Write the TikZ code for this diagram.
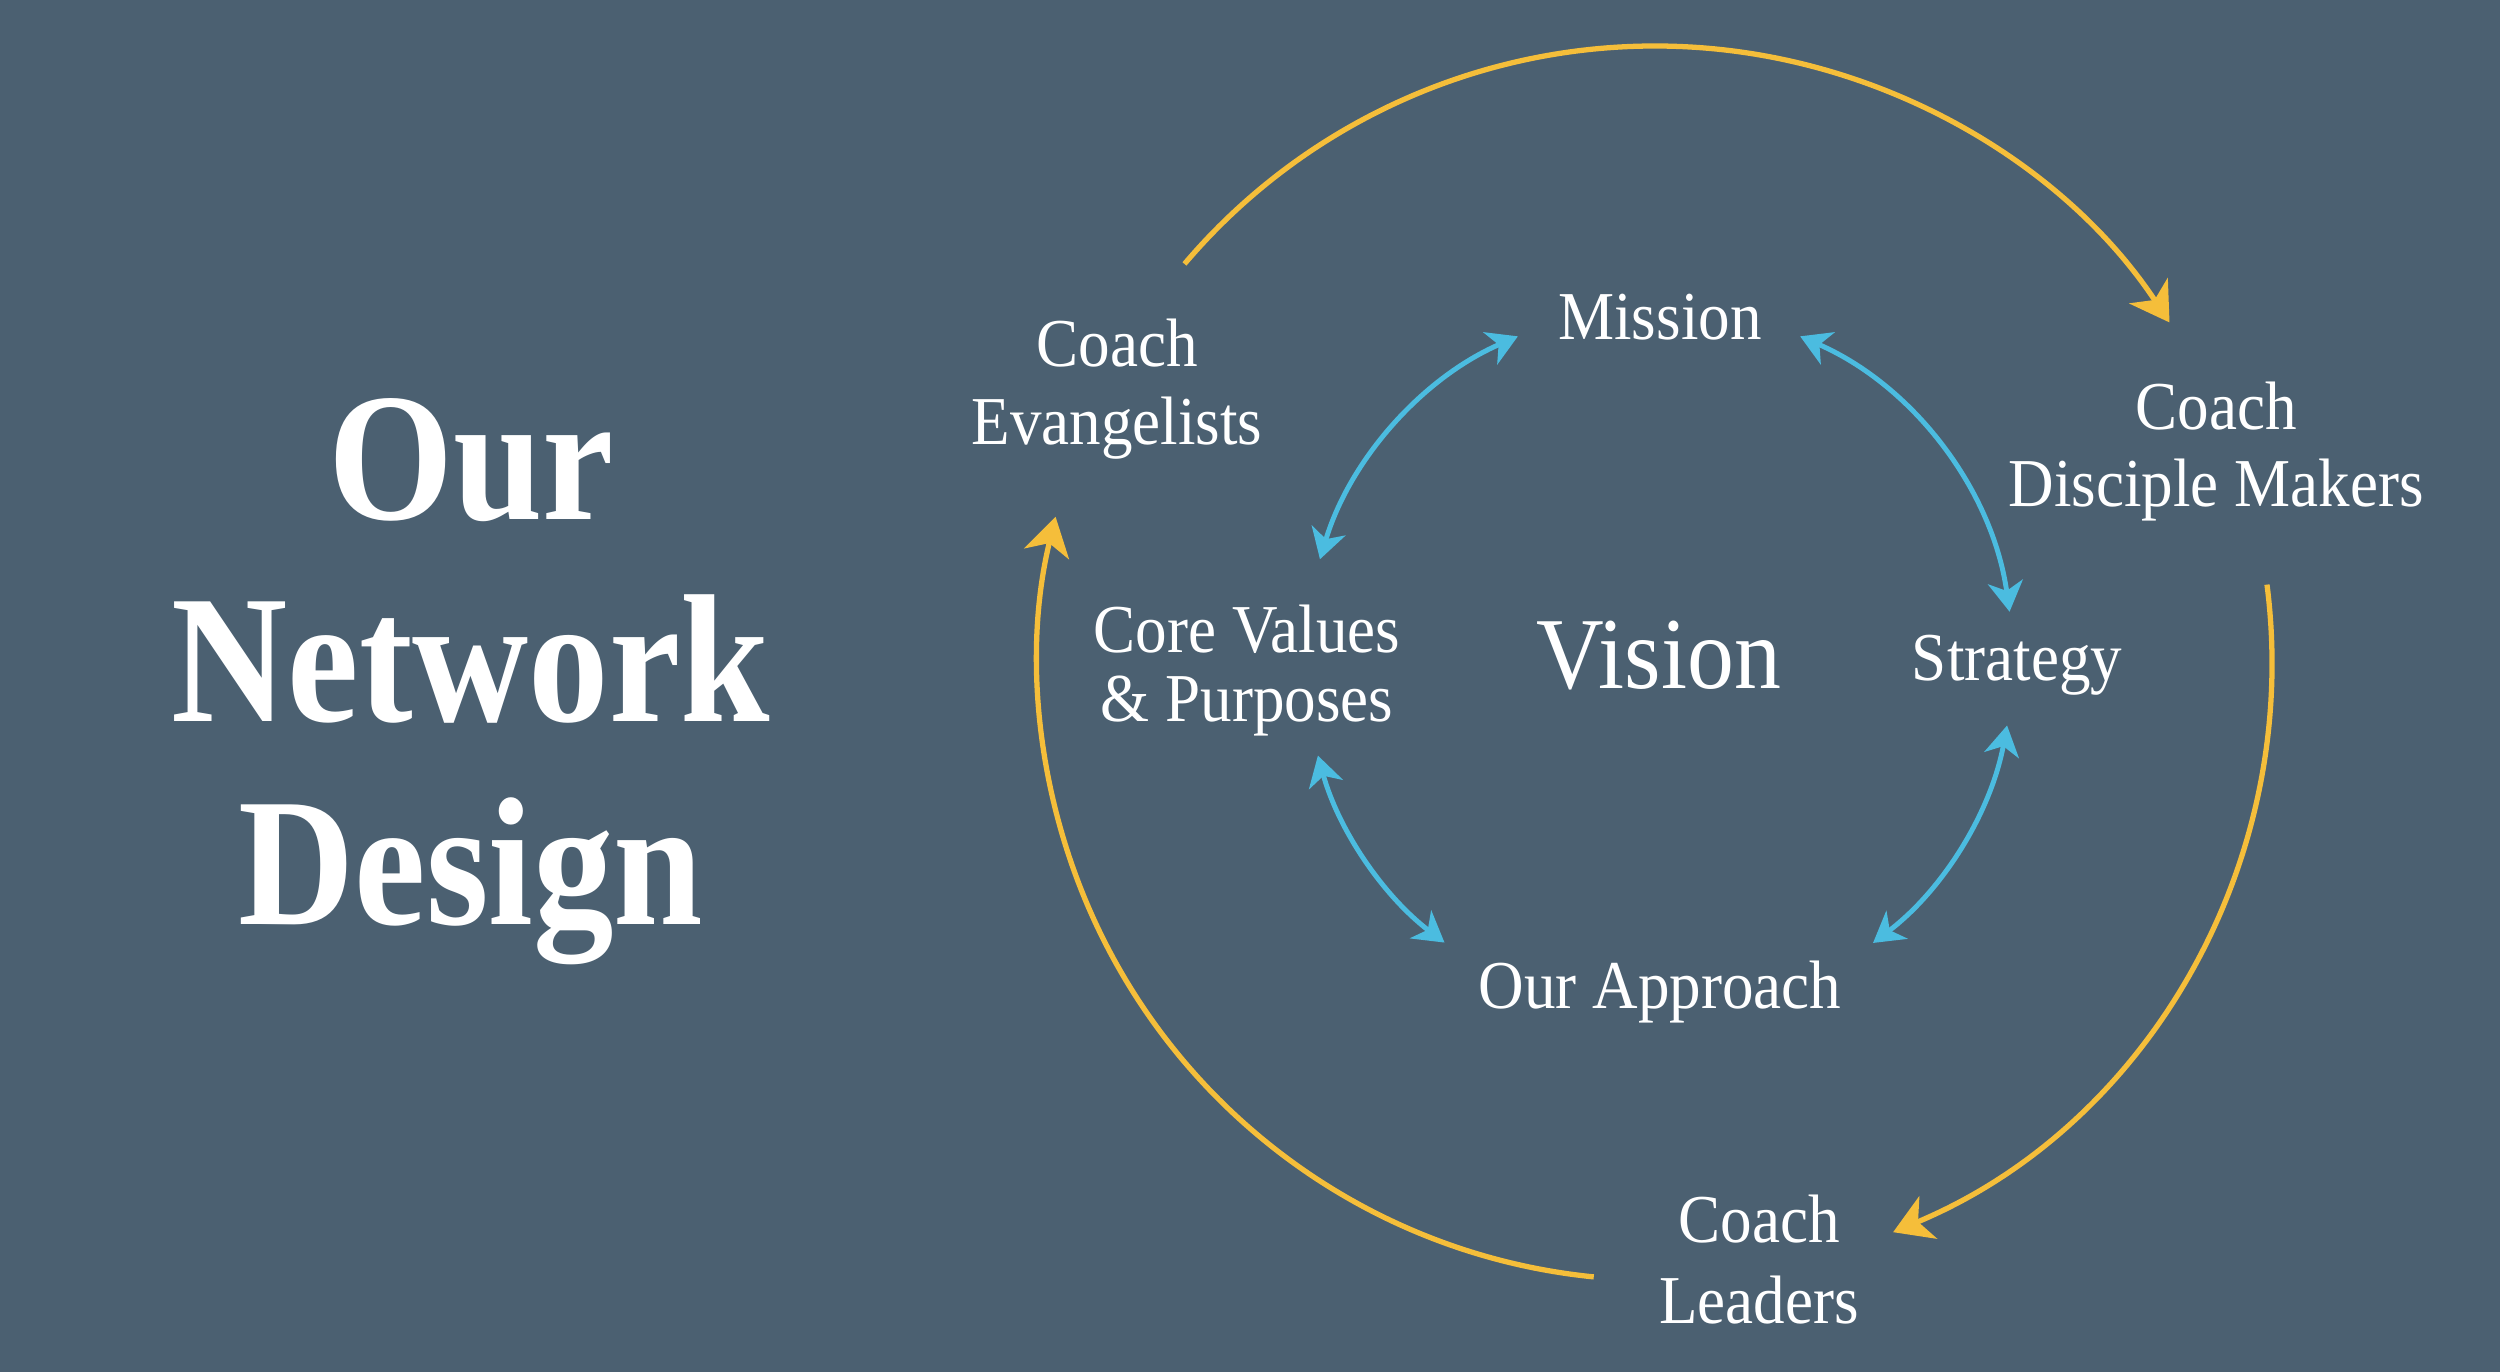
\documentclass[tikz,border=0pt]{standalone}
\usepackage{fontspec}
\setmainfont{Liberation Serif}
\newfontfamily\labfont[FakeStretch=0.92]{Liberation Serif}
\newfontfamily\ttlfont[FakeStretch=0.88]{Liberation Serif}
\usetikzlibrary{arrows.meta,calc}
\definecolor{bgc}{RGB}{75,96,113}
\definecolor{ylw}{RGB}{245,190,58}
\definecolor{blu}{RGB}{75,188,224}
\tikzset{
  ttl/.style={anchor=base,inner sep=0pt,text=white,font=\ttlfont\bfseries\fontsize{52}{60}\selectfont},
  lab/.style={anchor=base,inner sep=0pt,text=white,font=\labfont\fontsize{19.5}{23}\selectfont},
  big/.style={anchor=base,inner sep=0pt,text=white,font=\labfont\fontsize{29}{34}\selectfont},
  outerarc/.style={draw=ylw,line width=1.5pt,-{Stealth[length=3.8mm,width=4.6mm,inset=1.1mm]}},
  innerarc/.style={draw=blu,line width=1.4pt,{Stealth[length=3mm,width=3.5mm,inset=0.9mm]}-{Stealth[length=3mm,width=3.5mm,inset=0.9mm]}}
}
\begin{document}
\begin{tikzpicture}
\fill[bgc] (0,0) rectangle (25,13.72);
\useasboundingbox (0,0) rectangle (25,13.72);
% title
\node[ttl] (t1) at (4.71,8.52) {Our};
\node[ttl] (t2) at (4.71,6.50) {Network};
\node[ttl] (t3) at (4.71,4.47) {Design};
% outer labels
\node[lab] (ev1) at (11.17,10.05) {Coach};
\node[lab] (ev2) at (11.17,9.27) {Evangelists};
\node[lab] (dm1) at (22.16,9.42) {Coach};
\node[lab] (dm2) at (22.16,8.65) {Disciple Makers};
\node[lab] (ld1) at (17.59,1.29) {Coach};
\node[lab] (ld2) at (17.59,0.48) {Leaders};
% inner labels
\node[lab] (mi) at (16.60,10.32) {Mission};
\node[lab] (cv1) at (12.47,7.19) {Core Values};
\node[lab] (cv2) at (12.47,6.50) {\& Purposes};
\node[big] (vi) at (16.59,6.83) {Vision};
\node[lab] (st) at (20.17,6.91) {Strategy};
\node[lab] (ap) at (16.60,3.63) {Our Approach};
% outer circle arcs
\coordinate (oc) at (16.55,7.09);
\coordinate (o1) at ($(oc)+(139.7:6.17)$);
\coordinate (o2) at ($(oc)+(7.3:6.17)$);
\coordinate (o3) at ($(oc)+(-95.7:6.17)$);
\draw[outerarc] (o1) arc[start angle=139.7,end angle=33.5,radius=6.17];
\draw[outerarc] (o2) arc[start angle=7.3,end angle=-67.3,radius=6.17];
\draw[outerarc] (o3) arc[start angle=-95.7,end angle=-193.7,radius=6.17];
% inner circle arcs
\coordinate (ic) at (16.59,7.11);
\coordinate (i1) at ($(ic)+(113.5:3.54)$);
\coordinate (i2) at ($(ic)+(66.5:3.54)$);
\coordinate (i3) at ($(ic)+(-10.5:3.54)$);
\coordinate (i4) at ($(ic)+(-127.3:3.54)$);
\draw[innerarc] (i1) arc[start angle=113.5,end angle=163.3,radius=3.54];
\draw[innerarc] (i2) arc[start angle=66.5,end angle=8,radius=3.54];
\draw[innerarc] (i3) arc[start angle=-10.5,end angle=-52.8,radius=3.54];
\draw[innerarc] (i4) arc[start angle=-127.3,end angle=-164.5,radius=3.54];
\end{tikzpicture}
\end{document}
